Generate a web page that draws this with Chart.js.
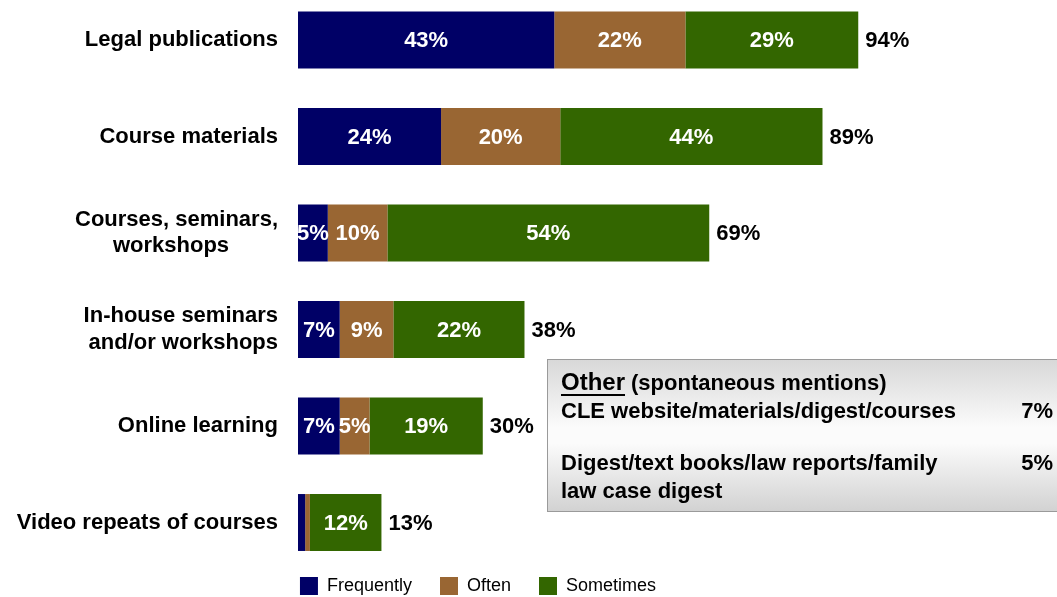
<!DOCTYPE html>
<html>
<head>
<meta charset="utf-8">
<script src="https://cdn.jsdelivr.net/npm/chart.js@4.4.1/dist/chart.umd.min.js"></script>
<style>
  html, body { margin: 0; padding: 0; background: #ffffff; overflow: hidden; }
  #wrap { width: 1057px; height: 597px; overflow: hidden; position: relative; }
  canvas { display: block; }
</style>
</head>
<body>
<div id="wrap"><canvas id="chart" width="1057" height="605"></canvas></div>
<script>
// Information sources: how often each is used (% of respondents)
const categories = [
  'Legal publications',
  'Course materials',
  ['Courses, seminars,', 'workshops        '],
  ['In-house seminars', 'and/or workshops'],
  'Online learning',
  'Video repeats of courses'
];
const seriesNames = ['Frequently', 'Often', 'Sometimes'];
const frequently = [43, 24, 5, 7, 7, 1.2];
const often      = [22, 20, 10, 9, 5, 0.8];
const sometimes  = [29, 44, 54, 22, 19, 12];
const totals     = [94, 89, 69, 38, 30, 13];
const seriesColors = ['#000066', '#996633', '#336600'];

// Spontaneous "other" mentions shown in the side box
const otherItems  = [['CLE website/materials/digest/courses'], ['Digest/text books/law reports/family', 'law case digest']];
const otherValues = [7, 5];

const FONT = "'Liberation Sans', Arial, Helvetica, sans-serif";

// White value labels inside segments, black totals after each bar
const barLabels = {
  id: 'barLabels',
  afterDatasetsDraw(chart) {
    const ctx = chart.ctx;
    ctx.save();
    ctx.font = 'bold 22px ' + FONT;
    ctx.textBaseline = 'middle';
    chart.data.datasets.forEach((ds, i) => {
      const meta = chart.getDatasetMeta(i);
      meta.data.forEach((bar, j) => {
        const v = ds.data[j];
        if (v < 2) return;
        const p = bar.getProps(['x', 'y', 'base'], true);
        ctx.fillStyle = '#ffffff';
        ctx.textAlign = 'center';
        ctx.fillText(v + '%', (p.x + p.base) / 2, p.y + 1);
      });
    });
    const last = chart.getDatasetMeta(chart.data.datasets.length - 1);
    last.data.forEach((bar, j) => {
      const p = bar.getProps(['x', 'y'], true);
      ctx.fillStyle = '#000000';
      ctx.textAlign = 'left';
      ctx.fillText(totals[j] + '%', p.x + 7, p.y + 1);
    });
    ctx.restore();
  }
};

// Shaded box listing the "other" mentions
const otherBox = {
  id: 'otherBox',
  afterDraw(chart) {
    const ctx = chart.ctx;
    const x = 547.5, y = 359.5, w = 520, h = 152;
    ctx.save();
    const g = ctx.createLinearGradient(0, y, 0, y + h);
    g.addColorStop(0, '#d8d8d8');
    g.addColorStop(0.45, '#fbfbfb');
    g.addColorStop(0.55, '#fbfbfb');
    g.addColorStop(1, '#d2d2d2');
    ctx.fillStyle = g;
    ctx.fillRect(x, y, w, h);
    ctx.strokeStyle = '#9a9a9a';
    ctx.lineWidth = 1;
    ctx.strokeRect(x, y, w, h);

    ctx.fillStyle = '#000000';
    ctx.textBaseline = 'middle';
    ctx.textAlign = 'left';
    const tx = 561;
    ctx.font = 'bold 24px ' + FONT;
    ctx.fillText('Other', tx, 383);
    const ow = ctx.measureText('Other').width;
    ctx.fillRect(tx, 394, ow, 2);
    ctx.font = 'bold 22px ' + FONT;
    ctx.fillText('(spontaneous mentions)', tx + ow + 6, 384);

    const rows = [412, 464];
    otherItems.forEach((lines, i) => {
      lines.forEach((t, k) => ctx.fillText(t, tx, rows[i] + k * 28));
      ctx.textAlign = 'right';
      ctx.fillText(otherValues[i] + '%', 1053, rows[i]);
      ctx.textAlign = 'left';
    });
    ctx.restore();
  }
};

const datasets = [frequently, often, sometimes].map((d, i) => ({
  label: seriesNames[i],
  data: d,
  backgroundColor: seriesColors[i],
  borderWidth: 0,
  categoryPercentage: 0.59,
  barPercentage: 1,
  clip: false
}));

new Chart(document.getElementById('chart'), {
  type: 'bar',
  data: { labels: categories, datasets },
  options: {
    indexAxis: 'y',
    responsive: false,
    animation: false,
    devicePixelRatio: 1,
    layout: { padding: { top: 40, bottom: 0, left: 0, right: 101 } },
    scales: {
      x: {
        stacked: true,
        min: 0,
        max: 110.4,
        display: true,
        grid: { display: false, drawTicks: false },
        border: { display: false },
        ticks: { display: false },
        afterFit(s) { s.height = 26.5; }
      },
      y: {
        stacked: true,
        offset: false,
        grid: { display: false, drawTicks: false },
        border: { display: false },
        ticks: {
          color: '#000000',
          padding: 20,
          font: { family: FONT, size: 22, weight: 'bold', lineHeight: 1.2 }
        },
        afterFit(s) { s.width = 298; }
      }
    },
    plugins: {
      legend: {
        position: 'bottom',
        labels: {
          boxWidth: 18,
          boxHeight: 18,
          padding: 28,
          color: '#000000',
          font: { family: FONT, size: 18 }
        }
      },
      tooltip: { enabled: false }
    }
  },
  plugins: [barLabels, otherBox]
});
</script>
</body>
</html>
